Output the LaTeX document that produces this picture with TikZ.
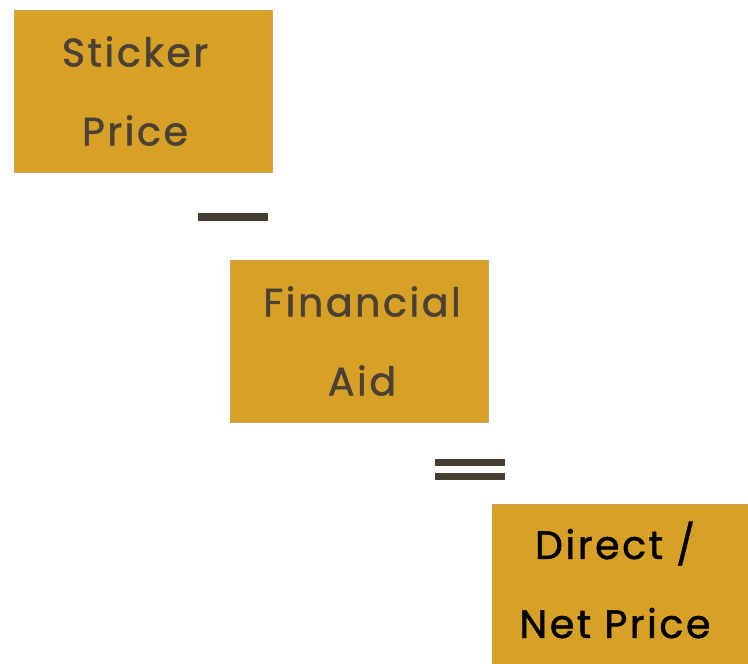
\documentclass[tikz,border=0pt]{standalone}
\usepackage{fontspec}
\setmainfont{Poppins}[LetterSpace=6.5, FakeBold=1.3]
\definecolor{boxfill}{HTML}{D6A126}
\definecolor{boxline}{HTML}{C9A45A}
\definecolor{ink}{HTML}{4A4034}
\definecolor{barcol}{HTML}{463E30}
\tikzset{
  pricebox/.style={draw=boxline, line width=1pt, fill=boxfill, rectangle, inner sep=0pt, anchor=north west},
  boxtext/.style={font=\fontsize{39.5}{79}\selectfont, align=center, text=ink, inner sep=0pt},
  bar/.style={fill=barcol, draw=none, rectangle, inner sep=0pt, anchor=north west}
}
\begin{document}
\begin{tikzpicture}[x=1pt,y=-1pt]
\useasboundingbox (0,0) rectangle (748,664);
\node[pricebox, minimum width=258pt, minimum height=162pt] (b1) at (14,10) {};
\node[pricebox, minimum width=258pt, minimum height=162pt] (b2) at (230,260) {};
\node[pricebox, minimum width=258pt, minimum height=162pt] (b3) at (492,504) {};
\node[boxtext] (t1) at (135,91) {Sticker\\Price};
\node[boxtext] (t2) at (362,341) {Financial\\Aid};
\node[boxtext, text=black] (t3) at (615,580) {Direct /\\Net Price};
\node[bar, minimum width=70pt, minimum height=8pt] (minus) at (198,213) {};
\node[bar, minimum width=70pt, minimum height=7pt] (eqa) at (435,459) {};
\node[bar, minimum width=70pt, minimum height=7pt] (eqb) at (435,473) {};
\end{tikzpicture}
\end{document}
